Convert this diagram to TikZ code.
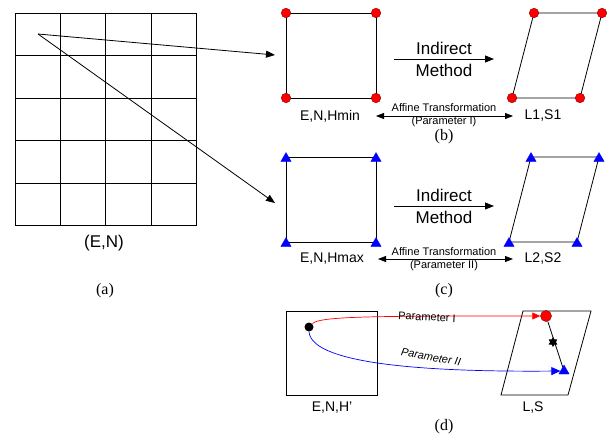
\documentclass[tikz,border=0pt]{standalone}
\usepackage{fontspec}
\setmainfont{Liberation Sans}
\newfontfamily\serifcap{Liberation Serif}
\usetikzlibrary{arrows.meta,shapes.geometric}
\begin{document}
\begin{tikzpicture}[x=1pt,y=-1pt, line width=0.8pt,
 lbl/.style={font=\fontsize{14}{16}\selectfont, inner sep=0},
 big/.style={font=\fontsize{17}{20}\selectfont, inner sep=0},
 small/.style={font=\fontsize{11}{12}\selectfont, inner sep=0},
 capt/.style={font=\serifcap\fontsize{16}{18}\selectfont, inner sep=0},
 rdot/.style={circle, fill=red, draw=red!60!black, line width=0.5pt, minimum size=9.5pt, inner sep=0},
 btri/.style={regular polygon, regular polygon sides=3, fill=blue, draw=blue, line width=0.3pt, minimum size=12pt, inner sep=0},
 tip/.style={-{Triangle[length=9pt,width=7pt]}},
 dtip/.style={{Triangle[length=8pt,width=6pt]}-{Triangle[length=8pt,width=6pt]}},
 ]
\useasboundingbox (0,0) rectangle (607,439);

% ---------- (a) grid ----------
\foreach \x in {15,60,105.5,151,196} \draw (\x,13) -- (\x,225.5);
\foreach \y in {13,55.5,98,140.5,183,225.5} \draw (15,\y) -- (196,\y);
\coordinate (src) at (38,34);
\node[big] (en) at (104,243) {(E,N)};
\node[capt] (capa) at (105,291) {(a)};

% ---------- (b) ----------
\coordinate (b1) at (286,13); \coordinate (b2) at (376,13);
\coordinate (b3) at (376,98); \coordinate (b4) at (286,98);
\draw (b1) -- (b2) -- (b3) -- (b4) -- cycle;
\coordinate (p1) at (534,13); \coordinate (p2) at (602,13);
\coordinate (p3) at (580,98); \coordinate (p4) at (512,98);
\draw (p1) -- (p2) -- (p3) -- (p4) -- cycle;
\foreach \c in {b1,b2,b3,b4,p1,p2,p3,p4} \node[rdot] (d\c) at (\c) {};
\coordinate (tb) at (275,55);
\draw[tip] (src) -- (tb);
\node[big] (ind1) at (444,48) {Indirect};
\node[big] (met1) at (444,70) {Method};
\coordinate (ia1) at (394,59); \coordinate (ib1) at (494,59);
\draw[tip] (ia1) -- (ib1);
\node[lbl] (enh1) at (330,116) {E,N,Hmin};
\node[lbl] (ls1) at (543,116) {L1,S1};
\node[small] (aff1) at (444,108) {Affine Transformation};
\node[small] (par1) at (444,122) {(Parameter I)};
\coordinate (aa1) at (376,116); \coordinate (ab1) at (513,116);
\draw[dtip] (aa1) -- (ab1);
\node[capt] (capb) at (444,137) {(b)};

% ---------- (c) ----------
\coordinate (c1) at (286,157); \coordinate (c2) at (376,157);
\coordinate (c3) at (376,242); \coordinate (c4) at (286,242);
\draw (c1) -- (c2) -- (c3) -- (c4) -- cycle;
\coordinate (q1) at (531,157); \coordinate (q2) at (599,157);
\coordinate (q3) at (577,242); \coordinate (q4) at (509,242);
\draw (q1) -- (q2) -- (q3) -- (q4) -- cycle;
\foreach \c in {c1,c2,c3,c4,q1,q2,q3,q4} \node[btri] (t\c) at ([yshift=-1.5pt]\c) {};
\coordinate (tc) at (275,203);
\draw[tip] (src) -- (tc);
\node[big] (ind2) at (444,195) {Indirect};
\node[big] (met2) at (444,217) {Method};
\coordinate (ia2) at (394,206); \coordinate (ib2) at (494,206);
\draw[tip] (ia2) -- (ib2);
\node[lbl] (enh2) at (332,259) {E,N,Hmax};
\node[lbl] (ls2) at (543,259) {L2,S2};
\node[small] (aff2) at (444,252) {Affine Transformation};
\node[small] (par2) at (444,266) {(Parameter II)};
\coordinate (aa2) at (378,259); \coordinate (ab2) at (513,259);
\draw[dtip] (aa2) -- (ab2);
\node[capt] (capc) at (444,291) {(c)};

% ---------- (d) ----------
\coordinate (e1) at (286,311); \coordinate (e2) at (377,311);
\coordinate (e3) at (377,395); \coordinate (e4) at (286,395);
\draw (e1) -- (e2) -- (e3) -- (e4) -- cycle;
\coordinate (r1) at (523,311); \coordinate (r2) at (591,311);
\coordinate (r3) at (568,395); \coordinate (r4) at (501,395);
\draw (r1) -- (r2) -- (r3) -- (r4) -- cycle;
\node[circle, fill=black, minimum size=9pt, inner sep=0] (pt) at (309,327) {};
\node[circle, fill=red, draw=red!60!black, line width=0.5pt, minimum size=11pt, inner sep=0] (rd) at (546,316) {};
\node[btri] (bt) at (564,371) {};
\draw (rd) -- (bt);
\node[star, star points=6, star point ratio=1.7, fill=black, minimum size=10pt, inner sep=0] (st) at (553,342) {};
\draw[red, line width=0.7pt, -{Triangle[length=8pt,width=7pt]}] (pt.north east) .. controls (320,316) and (380,316) .. (rd.west);
\draw[blue, line width=0.7pt, -{Triangle[length=9pt,width=8pt]}] (pt.south) .. controls (312,366) and (440,372) .. (bt.west);
\node[small, rotate=-3] (lp1) at (427,317) {Parameter I};
\node[small, rotate=-10] (lp2) at (431,357) {\itshape Parameter II};
\node[lbl] (enh3) at (332,408) {E,N,H'};
\node[lbl] (ls3) at (533,408) {L,S};
\node[capt] (capd) at (444,427) {(d)};
\end{tikzpicture}
\end{document}
